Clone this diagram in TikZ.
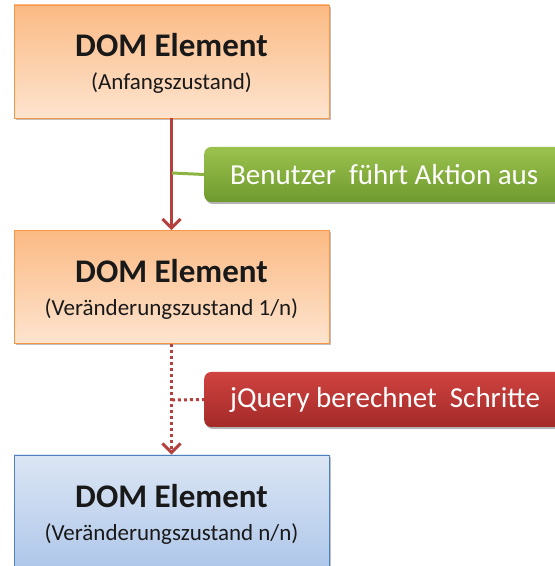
\documentclass[tikz,border=0pt]{standalone}
\usepackage{fontspec}
\setmainfont{Carlito}
\usetikzlibrary{arrows.meta,shadows}
\definecolor{orBorder}{HTML}{F79646}
\definecolor{orTop}{HTML}{FBBA84}
\definecolor{orBot}{HTML}{FDE4CF}
\definecolor{blBorder}{HTML}{4F81BD}
\definecolor{blTop}{HTML}{DCE6F4}
\definecolor{blBot}{HTML}{AFC7EA}
\definecolor{grTop}{HTML}{9CC24E}
\definecolor{grBot}{HTML}{6E9A2E}
\definecolor{rdTop}{HTML}{CF4340}
\definecolor{rdBot}{HTML}{A32A28}
\definecolor{arrowRed}{HTML}{B5413F}
\definecolor{grLine}{HTML}{8DB443}
\tikzset{
  x=1pt, y=1pt,
  dombox/.style={draw=orBorder, line width=0.8pt, minimum width=315pt, minimum height=113pt,
    top color=orTop, bottom color=orBot, align=center, inner sep=0pt,
    drop shadow={shadow xshift=1.5pt, shadow yshift=-2pt, opacity=0.25, fill=black}},
  domboxblue/.style={dombox, draw=blBorder, top color=blTop, bottom color=blBot},
  label/.style={rounded corners=7pt, minimum width=366pt, minimum height=55pt,
    anchor=west, inner sep=0pt,
    drop shadow={shadow xshift=1.5pt, shadow yshift=-2pt, opacity=0.3, fill=black}},
  labtext/.style={anchor=west, text=white, font=\fontsize{29}{31}\selectfont, inner sep=0pt},
  flow/.style={draw=arrowRed, line width=3pt, -{Straight Barb[length=9pt,width=18pt,line width=3pt]}},
  flowdot/.style={flow, dash pattern=on 3pt off 3pt},
  title/.style={font=\bfseries\fontsize{33}{36}\selectfont, text=black!90},
  sub/.style={font=\fontsize{23}{25}\selectfont, text=black!90},
}
\begin{document}
\begin{tikzpicture}
\useasboundingbox (0,0) rectangle (555,566);
% boxes
\node[dombox] (b1) at (171.5,504.5) {};
\node[dombox] (b2) at (171.5,279) {};
\node[domboxblue] (b3) at (171.5,54.5) {};
% texts
\node[title, anchor=base] (t1) at (171.5,509) {DOM Element};
\node[sub, anchor=base] (s1) at (171.5,476) {(Anfangszustand)};
\node[title, anchor=base] (t2) at (171.5,283) {DOM Element};
\node[sub, anchor=base] (s2) at (171.5,250) {(Veränderungszustand 1/n)};
\node[title, anchor=base] (t3) at (171.5,58) {DOM Element};
\node[sub, anchor=base] (s3) at (171.5,25) {(Veränderungszustand n/n)};
% labels
\node[label, top color=grTop, bottom color=grBot] (g) at (204,391.5) {};
\node[labtext] (gt) at (230,391.5) {Benutzer\ \ führt Aktion aus};
\node[label, top color=rdTop, bottom color=rdBot] (r) at (204,166.5) {};
\node[labtext] (rt) at (230,166.5) {jQuery\ berechnet\ \ Schritte};
% connectors
\coordinate (c1) at (172,393);
\coordinate (c2) at (172,166);
\draw[flow] (b1.south) -- (b2.north);
\draw[flowdot] (b2.south) -- (b3.north);
\draw[grLine, line width=3pt] (c1) -- (g.west);
\draw[arrowRed, line width=3pt, dash pattern=on 3pt off 3pt] (c2) -- (r.west);
\end{tikzpicture}
\end{document}
